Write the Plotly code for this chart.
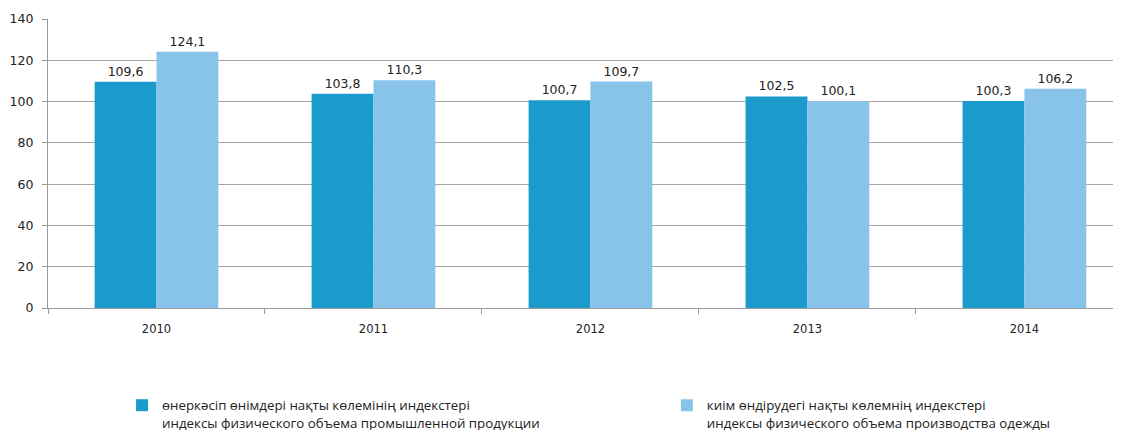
import plotly.graph_objects as go

years = ["2010", "2011", "2012", "2013", "2014"]
industry = [109.6, 103.8, 100.7, 102.5, 100.3]
clothing = [124.1, 110.3, 109.7, 100.1, 106.2]
industry_name = "өнеркәсіп өнімдері нақты көлемінің индекстері<br>индексы физического объема промышленной продукции"
clothing_name = "киім өндірудегі нақты көлемнің индекстері<br>индексы физического объема производства одежды"

def fmt(v):
    return f"{v:.1f}".replace(".", ",")

label_font = dict(family="DejaVu Sans, sans-serif", size=12.5, color="#222222")

fig = go.Figure()
fig.add_trace(go.Bar(x=years, y=industry, name=industry_name, marker_color="#1a9bcb",
                     marker_line_width=0, text=[fmt(v) for v in industry], textposition="outside",
                     textfont=label_font, cliponaxis=False, legend="legend"))
fig.add_trace(go.Bar(x=years, y=clothing, name=clothing_name, marker_color="#88c4ea",
                     marker_line_width=0, text=[fmt(v) for v in clothing], textposition="outside",
                     textfont=label_font, cliponaxis=False, legend="legend2"))

legend_font = dict(family="Open Sans, Noto Sans, sans-serif", size=13.3, color="#222222")

fig.update_layout(
    width=1121, height=430,
    margin=dict(l=40, r=0, t=11, b=130, autoexpand=False),
    paper_bgcolor="white", plot_bgcolor="white",
    barmode="group", bargap=0.43, bargroupgap=0,
    font=dict(family="DejaVu Sans, sans-serif", size=13, color="#222222"),
    showlegend=True,
    legend=dict(orientation="h", x=0.0685, xanchor="left", y=-0.284, yanchor="top",
                valign="top", font=legend_font),
    legend2=dict(orientation="h", x=0.5725, xanchor="left", y=-0.284, yanchor="top",
                 valign="top", font=legend_font),
    xaxis=dict(type="category", range=[-0.5, 4.482], showgrid=False,
               showline=True, linecolor="#999999", linewidth=1.3,
               ticks="outside", tickson="boundaries", ticklen=5, tickcolor="#999999",
               ticklabelstandoff=10,
               tickfont=dict(family="DejaVu Sans, sans-serif", size=11.5, color="#222222")),
    yaxis=dict(range=[0, 140], dtick=20, showgrid=True, gridcolor="#a6a6a6", gridwidth=1.3,
               showline=True, linecolor="#999999", linewidth=1.3,
               ticks="outside", ticklen=5, tickcolor="#999999", zeroline=False,
               ticklabelstandoff=6,
               tickfont=dict(family="DejaVu Sans, sans-serif", size=12.5, color="#222222")),
)

fig.write_html("out.html")
